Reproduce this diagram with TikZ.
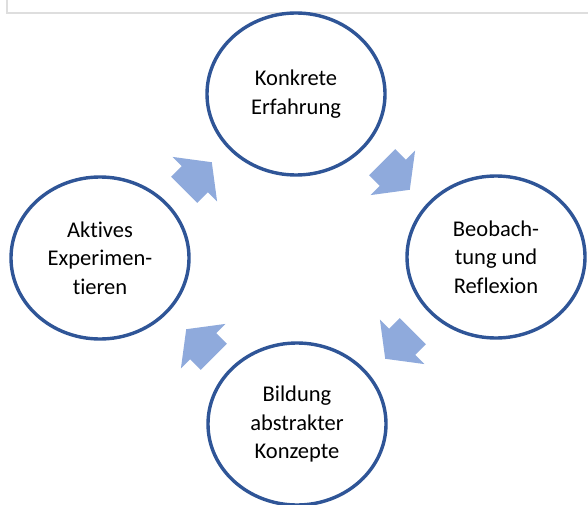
\documentclass[tikz,border=0pt]{standalone}
\usepackage{fontspec}
\setmainfont{Carlito}[Ligatures={NoCommon}]
\usetikzlibrary{shapes.geometric}
\definecolor{ringblue}{HTML}{2F5597}
\definecolor{arrowblue}{HTML}{8FAADC}
\definecolor{framegray}{HTML}{DEDEDE}
\begin{document}
\begin{tikzpicture}[x=1pt,y=1pt,
  stage/.style={ellipse, draw=ringblue, line width=3.4pt, fill=white,
    minimum width=178pt, minimum height=162pt, inner sep=0pt,
    align=center, font=\fontsize{22.5}{28.5}\selectfont, text=black},
  blockarrow/.style={fill=arrowblue, draw=none}]
\useasboundingbox (0,0) rectangle (588,504);
\fill[white] (0,0) rectangle (588,504);
\draw[framegray, line width=2.2pt] (7,506) -- (7,491) -- (590,491);
% stages
\node[stage] (konkret) at (296,410) {Konkrete\\Erfahrung};
\node[stage] (beob) at (496,247) {Beobach-\\tung und\\Reflexion};
\node[stage] (bildung) at (297,80) {Bildung\\abstrakter\\Konzepte};
\node[stage] (aktiv) at (100,246) {Aktives\\Experimen-\\tieren};
% arrow positions
\coordinate (a1) at (198,328);
\coordinate (a2) at (396,328);
\coordinate (a3) at (399,159);
\coordinate (a4) at (200,161);
\foreach \c/\ang in {a1/45, a2/-45, a3/-135, a4/135}{
  \fill[blockarrow, shift={(\c)}, rotate=\ang]
    (-19.5,-18.5) -- (-4.5,-18.5) -- (-4.5,-31.5) -- (19.5,0)
    -- (-4.5,31.5) -- (-4.5,18.5) -- (-19.5,18.5) -- cycle;
}
\end{tikzpicture}
\end{document}
